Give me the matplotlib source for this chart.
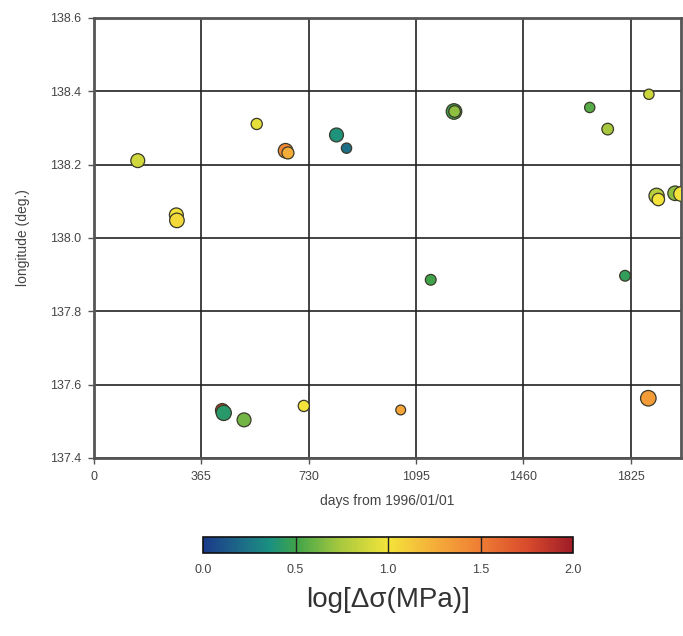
import matplotlib
matplotlib.use("Agg")
import matplotlib.pyplot as plt
from matplotlib.colors import LinearSegmentedColormap, Normalize

plt.rcParams['font.family'] = ['Liberation Sans', 'DejaVu Sans']

# Event catalogue: time, longitude, log stress drop, marker area
days = [150, 281, 283, 554, 652, 660, 825, 859, 437, 442, 511, 714,
        1224, 1226, 1145, 1043, 1685, 1746, 1886, 1805, 1884,
        1912, 1918, 1975, 1995]
longitude = [138.211, 138.063, 138.048, 138.311, 138.238, 138.232, 138.281, 138.245,
             137.530, 137.523, 137.504, 137.542,
             138.345, 138.345, 137.886, 137.531, 138.356, 138.297, 138.392, 137.897,
             137.563, 138.115, 138.105, 138.122, 138.120]
log_stress = [0.88, 1.0, 1.05, 0.95, 1.45, 1.25, 0.38, 0.22, 1.8, 0.42, 0.62, 1.0,
              0.5, 0.68, 0.5, 1.3, 0.56, 0.74, 0.86, 0.46, 1.35,
              0.8, 1.0, 0.68, 1.0]
marker_area = [100, 100, 110, 65, 110, 75, 100, 55, 95, 120, 100, 65,
               125, 70, 60, 50, 55, 70, 55, 60, 125,
               120, 80, 110, 110]

x_ticks = [0, 365, 730, 1095, 1460, 1825]
y_ticks = [137.4, 137.6, 137.8, 138.0, 138.2, 138.4, 138.6]
cbar_ticks = [0.0, 0.5, 1.0, 1.5, 2.0]

cmap = LinearSegmentedColormap.from_list(
    "stress",
    [(0.0, "#1a3a8a"), (0.1, "#1d6a88"), (0.18, "#1a9080"), (0.25, "#3fa34a"),
     (0.37, "#a8c83e"), (0.5, "#f3e43a"), (0.62, "#f5b03a"),
     (0.75, "#ef7d34"), (0.88, "#d84a2c"), (1.0, "#9e1c28")])
norm = Normalize(0.0, 2.0)

fig = plt.figure(figsize=(6.83, 6.36), dpi=100)
ax = fig.add_axes([93.6 / 683, 1 - 458 / 636, (681 - 93.6) / 683, 440 / 636])

text_col = "#444444"
ax.scatter(days, longitude, s=marker_area, c=log_stress, cmap=cmap, norm=norm,
           edgecolors="#3a3a2a", linewidths=0.9, zorder=3)

ax.set_xlim(0, 1995)
ax.set_ylim(137.4, 138.6)
ax.set_xticks(x_ticks)
ax.set_xticklabels([str(t) for t in x_ticks])
ax.set_yticks(y_ticks)
ax.set_yticklabels([f"{t:.1f}" for t in y_ticks])
ax.grid(True, color="#222222", linewidth=1.2, zorder=1)
for sp in ax.spines.values():
    sp.set_linewidth(2.0)
    sp.set_color("#555555")
ax.tick_params(direction="out", length=4, width=1.0, color="#555555",
               labelsize=9, labelcolor=text_col, pad=5)
ax.set_xlabel("days from 1996/01/01", fontsize=10, color=text_col, labelpad=8)
ax.set_ylabel("longitude (deg.)", fontsize=10, color=text_col, labelpad=14)

# Colour scale
cax = fig.add_axes([203 / 683, 1 - 553 / 636, 370 / 683, 16 / 636])
sm = plt.cm.ScalarMappable(cmap=cmap, norm=norm)
cb = fig.colorbar(sm, cax=cax, orientation="horizontal", ticks=cbar_ticks)
cb.outline.set_linewidth(1.2)
cb.outline.set_edgecolor("#111111")
for t in cbar_ticks[1:-1]:
    cax.axvline(t, color="#222222", linewidth=1.0)
cax.tick_params(length=0, labelsize=9, labelcolor=text_col, pad=8)
cax.set_xticklabels([f"{t:.1f}" for t in cbar_ticks])
cb.set_label("log[Δσ(MPa)]", fontsize=20, color="#333333", labelpad=8)

fig.savefig("out.png", dpi=100)
